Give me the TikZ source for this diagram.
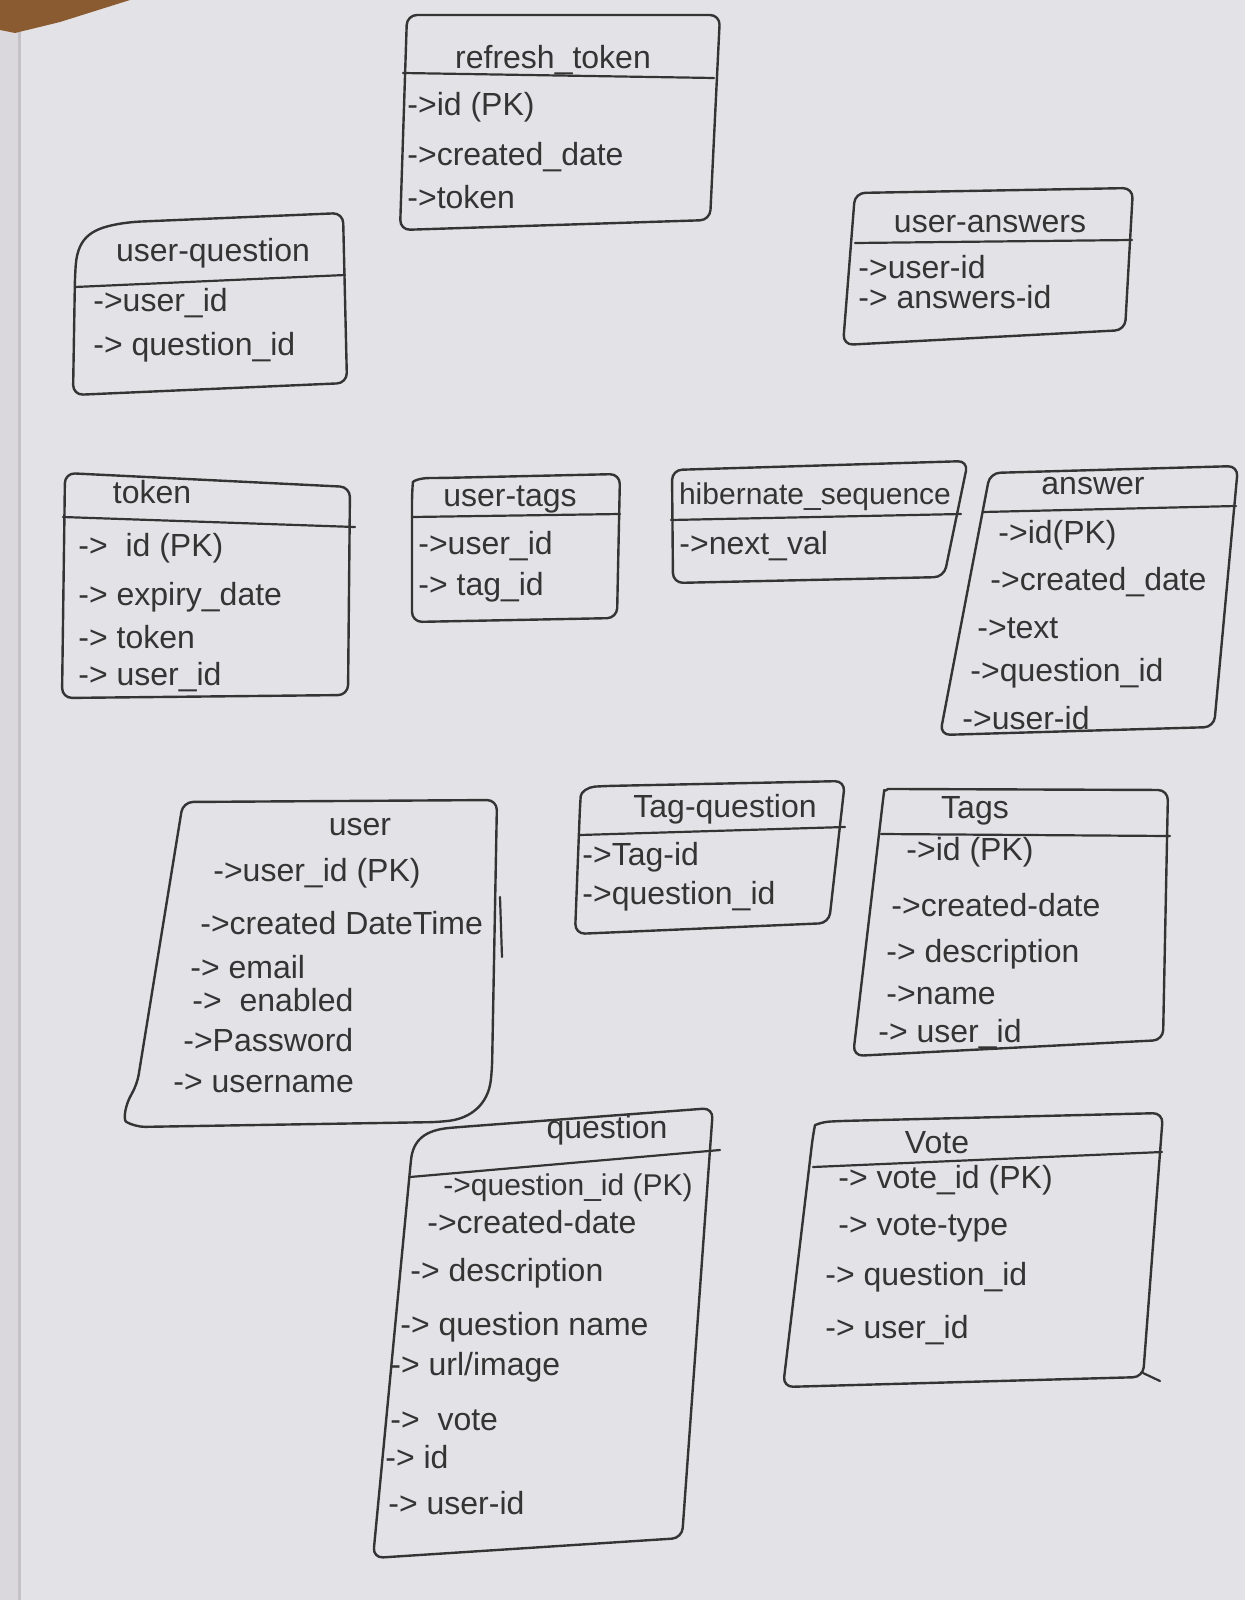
\documentclass[tikz,border=0pt]{standalone}
\usepackage{fontspec}
\setmainfont{Liberation Sans}
\definecolor{paper}{HTML}{E3E2E6}
\definecolor{paperedge}{HTML}{DAD8DC}
\definecolor{fold}{HTML}{C4C2C6}
\definecolor{wood}{HTML}{8A5A30}
\definecolor{ink}{HTML}{343434}
\begin{document}
\begin{tikzpicture}[x=0.5pt,y=-0.5pt,
  outline/.style={draw=ink, line width=1.2pt, rounded corners=5pt, line join=round},
  rule/.style={draw=ink, line width=1.1pt, line cap=round},
  ttl/.style={text=ink, font=\fontsize{16}{19}\selectfont, inner sep=0pt},
  fld/.style={text=ink, font=\fontsize{16}{19}\selectfont, anchor=west, inner sep=0pt},
  small/.style={font=\fontsize{15}{18}\selectfont},
]
% sheet of paper
\fill[paper] (0,0) rectangle (1245,1600);
\useasboundingbox (0,0) rectangle (1245,1600);
\fill[paperedge] (0,30) rectangle (18,1600);
\draw[fold, line width=1.5pt] (19,32) -- (19,1600);
\fill[wood] (0,0) -- (130,0) -- (60,22) -- (15,33) -- (0,30) -- cycle;

% refresh_token
\draw[outline] (407,15) -- (720,15) -- (710,220) -- (400,230) -- cycle;
\draw[rule] (403,73) -- (714,78);
\node[ttl] (rtT) at (553,60) {refresh\_token};
\node[fld] (rt1) at (407,107) {->id (PK)};
\node[fld] (rt2) at (407,157) {->created\_date};
\node[fld] (rt3) at (407,197) {->token};

% user-question
\draw[outline] (73,395) -- (75,275) .. controls (78,235) and (95,228) .. (130,222) -- (343,213) -- (347,383) -- cycle;
\draw[rule] (75,287) -- (345,275);
\node[ttl] (uqT) at (213,253) {user-question};
\node[fld] (uq1) at (93,303) {->user\_id};
\node[fld] (uq2) at (93,347) {-> question\_id};

% user-answers
\draw[outline] (855,193) -- (1133,188) -- (1125,330) -- (843,345) -- cycle;
\draw[rule] (855,243) -- (1132,240);
\node[ttl] (uaT) at (990,224) {user-answers};
\node[fld] (ua1) at (858,267) {->user-id};
\node[fld] (ua2) at (858,297) {-> answers-id};

% token
\draw[outline] (65,473) -- (350,487) -- (348,695) -- (62,698) -- cycle;
\draw[rule] (63,517) -- (355,527);
\node[ttl] (tkT) at (152,492) {token};
\node[fld] (tk1) at (78,548) {->\ \ id (PK)};
\node[fld] (tk2) at (78,597) {-> expiry\_date};
\node[fld] (tk3) at (78,637) {-> token};
\node[fld] (tk4) at (78,677) {-> user\_id};

% user-tags
\draw[outline] (412,622) -- (412,492) .. controls (413,481) and (420,478) .. (440,478) -- (620,474) -- (617,618) -- cycle;
\draw[rule] (412,517) -- (620,514);
\node[ttl] (utT) at (510,499) {user-tags};
\node[fld] (ut1) at (418,546) {->user\_id};
\node[fld] (ut2) at (418,587) {-> tag\_id};

% hibernate_sequence
\draw[outline] (672,470) -- (968,461) -- (944,577) -- (673,583) -- cycle;
\draw[rule] (671,520) -- (961,514);
\node[ttl, small] (hsT) at (815,497) {hibernate\_sequence};
\node[fld] (hs1) at (679,546) {->next\_val};

% answer
\draw[outline] (990,473) -- (1238,466) -- (1214,727) -- (940,735) -- cycle;
\draw[rule] (983,512) -- (1236,506);
\node[ttl] (anT) at (1093,486) {answer};
\node[fld] (an1) at (998,535) {->id(PK)};
\node[fld] (an2) at (990,582) {->created\_date};
\node[fld] (an3) at (977,628) {->text};
\node[fld] (an4) at (970,673) {->question\_id};
\node[fld] (an5) at (962,718) {->user-id};

% user
\draw[outline] (183,802) -- (497,800) -- (492,1070) .. controls (488,1105) and (470,1118) .. (440,1122) -- (135,1127) .. controls (123,1120) and (125,1105) .. (137,1085) -- cycle;
\draw[rule] (500,897) -- (502,957);
\node[ttl] (usT) at (360,827) {user};
\node[fld] (us1) at (213,873) {->user\_id (PK)};
\node[fld] (us2) at (200,923) {->created DateTime};
\node[fld] (us3) at (190,967) {->\ email};
\node[fld] (us4) at (192,1000) {->\ \ enabled};
\node[fld] (us5) at (183,1040) {->Password};
\node[fld] (us6) at (173,1083) {->\ username};

% Tag-question
\draw[outline] (575,934) -- (580,806) .. controls (581,792) and (588,787) .. (605,786) -- (845,781) -- (829,923) -- cycle;
\draw[rule] (580,835) -- (845,827);
\node[ttl] (tqT) at (725,809) {Tag-question};
\node[fld] (tq1) at (582,857) {->Tag-id};
\node[fld] (tq2) at (582,896) {->question\_id};

% Tags
\draw[outline] (853,1056) -- (883,800) .. controls (884,792) and (888,789) .. (898,789) -- (1168,790) -- (1163,1040) -- cycle;
\draw[rule] (881,834) -- (1170,836);
\node[ttl] (tgT) at (975,811) {Tags};
\node[fld] (tg1) at (906,852) {->id (PK)};
\node[fld] (tg2) at (891,905) {->created-date};
\node[fld] (tg3) at (886,954) {->\ description};
\node[fld] (tg4) at (886,995) {->name};
\node[fld] (tg5) at (878,1034) {->\ user\_id};

% question
\draw[outline] (373,1558) -- (410,1170) .. controls (413,1140) and (425,1130) .. (460,1127) -- (713,1108) -- (682,1538) -- cycle;
\draw[rule] (410,1177) -- (720,1150);
\node[ttl] (qnT) at (607,1130) {question};
\node[fld, small] (qn1) at (443,1188) {->question\_id (PK)};
\node[fld] (qn2) at (427,1222) {->created-date};
\node[fld] (qn3) at (410,1273) {->\ description};
\node[fld] (qn4) at (400,1327) {->\ question name};
\node[fld] (qn5) at (390,1367) {->\ url/image};
\node[fld] (qn6) at (390,1420) {->\ \ vote};
\node[fld] (qn7) at (385,1457) {->\ id};
\node[fld] (qn8) at (388,1503) {->\ user-id};

% Vote
\draw[outline] (783,1387) -- (813,1135) .. controls (815,1125) and (822,1122) .. (840,1121) -- (1163,1113) -- (1143,1377) -- cycle;
\draw[rule] (1143,1373) -- (1160,1381);
\draw[rule] (813,1167) -- (1162,1152);
\node[ttl] (vtT) at (937,1143) {Vote};
\node[fld] (vt1) at (838,1180) {->\ vote\_id (PK)};
\node[fld] (vt2) at (838,1228) {->\ vote-type};
\node[fld] (vt3) at (825,1277) {->\ question\_id};
\node[fld] (vt4) at (825,1330) {->\ user\_id};
\end{tikzpicture}
\end{document}
